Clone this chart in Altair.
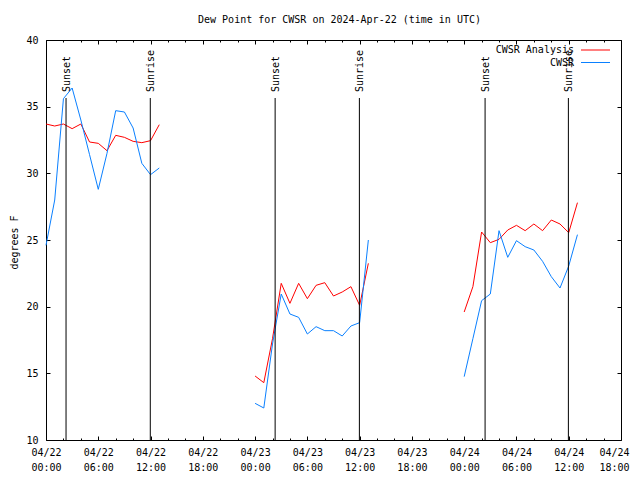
import json
import altair as alt
import pandas as pd

FONT = "DejaVu Sans Mono"

title_text = "Dew Point for CWSR on 2024-Apr-22 (time in UTC)"
y_title = "degrees F"
series_names = ["CWSR Analysis", "CWSR"]
series_colors = ["#ff0000", "#0a80ff"]

# hourly times (hours since 04/22 00:00 UTC), three separate runs
hours_run1 = list(range(0, 14))
hours_run2 = list(range(24, 38))
hours_run3 = list(range(48, 62))

analysis_run1 = [33.7, 33.55, 33.7, 33.35, 33.7, 32.35, 32.25, 31.7, 32.85, 32.7, 32.4, 32.3, 32.45, 33.65]
analysis_run2 = [14.8, 14.3, 17.6, 21.75, 20.25, 21.75, 20.6, 21.6, 21.8, 20.8, 21.1, 21.5, 20.1, 23.25]
analysis_run3 = [19.6, 21.5, 25.6, 24.8, 25.05, 25.75, 26.1, 25.7, 26.2, 25.7, 26.5, 26.2, 25.55, 27.8]

obs_run1 = [24.6, 28.0, 35.6, 36.4, 34.0, 31.4, 28.8, 31.5, 34.7, 34.6, 33.4, 30.75, 29.9, 30.4]
obs_run2 = [12.75, 12.4, 17.2, 20.95, 19.45, 19.2, 17.95, 18.5, 18.2, 18.2, 17.8, 18.55, 18.8, 25.0]
obs_run3 = [14.75, 17.6, 20.45, 20.95, 25.7, 23.7, 24.95, 24.5, 24.25, 23.4, 22.25, 21.4, 23.05, 25.4]

sun_hours = [2.3, 11.97, 26.3, 35.97, 50.4, 59.96]
sun_labels = ["Sunset", "Sunrise", "Sunset", "Sunrise", "Sunset", "Sunrise"]
sun_line_top = 35.65
sun_text_base = 36.1

x_domain = [0, 66]
y_domain = [10, 40]
x_major = list(range(0, 67, 6))
x_minor = list(range(0, 67, 2))
x_tick_labels = [
    ["04/22", "00:00"], ["04/22", "06:00"], ["04/22", "12:00"], ["04/22", "18:00"],
    ["04/23", "00:00"], ["04/23", "06:00"], ["04/23", "12:00"], ["04/23", "18:00"],
    ["04/24", "00:00"], ["04/24", "06:00"], ["04/24", "12:00"], ["04/24", "18:00"],
]
y_ticks = [10, 15, 20, 25, 30, 35, 40]

rows = []
for name, runs in [
    (series_names[0], [(hours_run1, analysis_run1), (hours_run2, analysis_run2), (hours_run3, analysis_run3)]),
    (series_names[1], [(hours_run1, obs_run1), (hours_run2, obs_run2), (hours_run3, obs_run3)]),
]:
    for i, (hh, vv) in enumerate(runs):
        for h, v in zip(hh, vv):
            rows.append({"hour": h, "value": v, "series": name, "run": i})
df = pd.DataFrame(rows)
sun_df = pd.DataFrame({"hour": sun_hours, "label": sun_labels})
legend_df = pd.DataFrame({"name": series_names, "color": series_colors})

W, H = 575, 400
xs = alt.Scale(domain=x_domain, nice=False, zero=False)
ys = alt.Scale(domain=y_domain, nice=False, zero=False)
label_expr = json.dumps(x_tick_labels) + "[round(datum.value / 6)]"
x_tick_size = {"condition": {"test": "datum.value % 6 === 0", "value": 4}, "value": 2}
last_label_shift = {"condition": {"test": f"datum.value === {x_domain[1]}", "value": -7}, "value": 0}

common_tick = dict(labels=False, domain=False, grid=False, title=None, tickColor="black", tickWidth=1)

# Layer 1: red line, carries the labelled axes
red = alt.Chart(df).transform_filter(alt.datum.series == series_names[0]).mark_line(
    color=series_colors[0], strokeWidth=1
).encode(
    x=alt.X("hour:Q", scale=xs, axis=alt.Axis(
        orient="bottom", values=x_major, labelExpr=label_expr, ticks=False, tickSize=0,
        domain=False, grid=False, title=None, labelFont=FONT, labelFontSize=10,
        labelColor="black", labelPadding=7, labelLineHeight=15, labelFlush=False,
        labelOverlap=False, labelOffset=last_label_shift)),
    y=alt.Y("value:Q", scale=ys, axis=alt.Axis(
        orient="left", values=y_ticks, ticks=False, tickSize=0, domain=False, grid=False,
        labelFont=FONT, labelFontSize=10, labelColor="black", labelPadding=8,
        labelFlush=False, labelOverlap=False, format="d",
        title=y_title, titleFont=FONT, titleFontSize=10, titleFontWeight="normal",
        titleColor="black", titleX=-32, titleY=202, titleAngle=270,
        titleAlign="center", titleBaseline="middle")),
    detail="run:N",
)

# Layer 2: blue line, inward ticks on bottom edge and left edge
blue = alt.Chart(df).transform_filter(alt.datum.series == series_names[1]).mark_line(
    color=series_colors[1], strokeWidth=1
).encode(
    x=alt.X("hour:Q", scale=xs, axis=alt.Axis(orient="top", offset=-H, values=x_minor,
                                               tickSize=x_tick_size, **common_tick)),
    y=alt.Y("value:Q", scale=ys, axis=alt.Axis(orient="right", offset=-W, values=y_ticks,
                                                tickSize=4, **common_tick)),
    detail="run:N",
)

# Layer 3: sunrise / sunset rules, inward ticks on top edge and right edge
sun_rules = alt.Chart(sun_df).mark_rule(color="black", strokeWidth=1).encode(
    x=alt.X("hour:Q", scale=xs, axis=alt.Axis(orient="bottom", offset=-H, values=x_minor,
                                               tickSize=x_tick_size, **common_tick)),
    y=alt.Y(datum=sun_line_top, scale=ys, axis=alt.Axis(orient="left", offset=-W, values=y_ticks,
                                                          tickSize=4, **common_tick)),
    y2=alt.Y2(datum=y_domain[0]),
)

sun_text = alt.Chart(sun_df).mark_text(
    angle=270, align="left", baseline="middle", font=FONT, fontSize=10, color="black", dy=1
).encode(
    x=alt.X("hour:Q", scale=xs, axis=None),
    y=alt.Y(datum=sun_text_base, scale=ys, axis=None),
    text="label:N",
)

legend_layers = []
for i, name in enumerate(series_names):
    base = alt.Chart(legend_df).transform_filter(alt.datum.name == name)
    legend_layers.append(base.mark_text(align="right", baseline="middle", font=FONT, fontSize=10,
                                        color="black").encode(
        x=alt.value(528), y=alt.value(10 + 13 * i), text="name:N"))
    legend_layers.append(base.mark_rule(color=series_colors[i], strokeWidth=1).encode(
        x=alt.value(535), x2=alt.value(564), y=alt.value(10 + 12.5 * i)))

chart = alt.layer(red, blue, sun_rules, sun_text, *legend_layers).resolve_axis(
    x="independent", y="independent"
).properties(
    width=W, height=H,
    title=alt.TitleParams(title_text, font=FONT, fontSize=10, fontWeight="normal",
                          color="black", anchor="middle", offset=10, dx=6),
    autosize=alt.AutoSizeParams(type="none"),
    padding={"left": 38, "top": 32, "right": 11, "bottom": 32},
    background="white",
).configure_view(stroke="black", strokeWidth=1)

chart.save("out.html", embed_options={"renderer": "svg", "actions": False})
